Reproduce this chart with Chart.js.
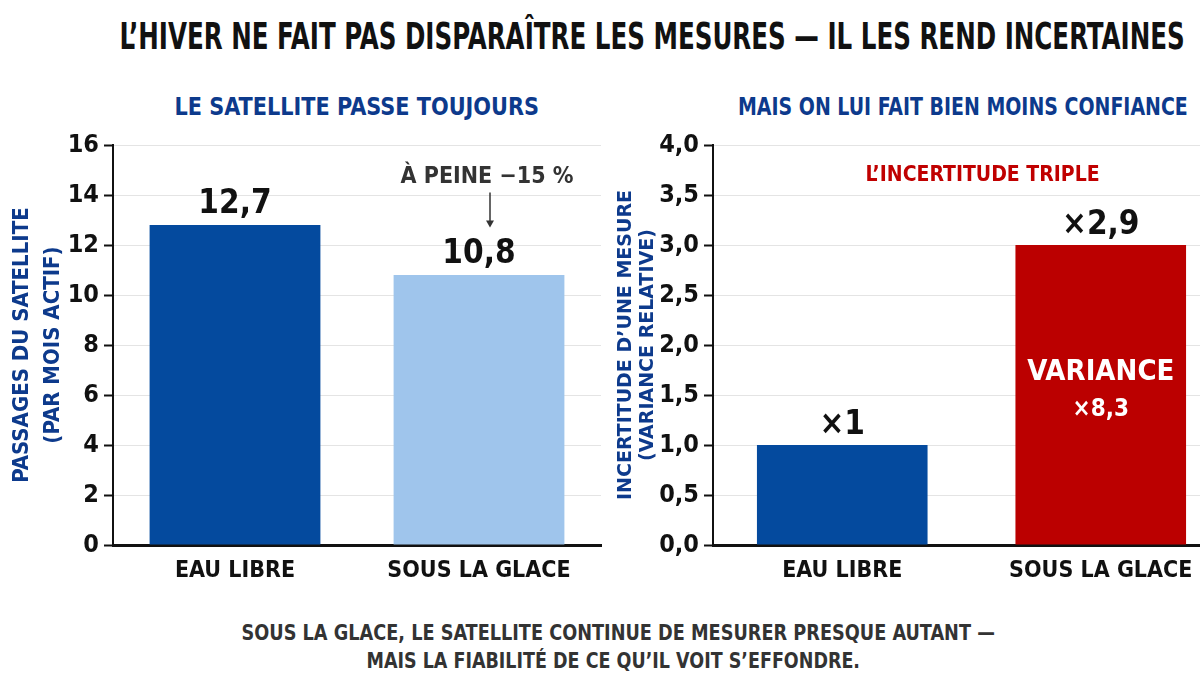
<!DOCTYPE html>
<html><head><meta charset="utf-8">
<script src="https://cdn.jsdelivr.net/npm/chart.js@4.4.1/dist/chart.umd.min.js"></script>
<style>
html,body{margin:0;padding:0;background:#ffffff;width:1200px;height:691px;overflow:hidden;position:relative;}
.t{position:absolute;white-space:nowrap;font-family:'Liberation Sans Narrow','DejaVu Sans Condensed','Arial Narrow',sans-serif;font-weight:bold;transform-origin:center center;line-height:1;}
.c{position:absolute;}
</style></head>
<body>
<div class="t" id="title" style="font-size:38px;color:#111;">L’HIVER NE FAIT PAS DISPARAÎTRE LES MESURES — IL LES REND INCERTAINES</div>
<div class="t" id="sub1" style="font-size:25px;color:#0d3a8c;">LE SATELLITE PASSE TOUJOURS</div>
<div class="t" id="sub2" style="font-size:25px;color:#0d3a8c;">MAIS ON LUI FAIT BIEN MOINS CONFIANCE</div>
<div class="t" id="foot1" style="font-size:21px;color:#333;">SOUS LA GLACE, LE SATELLITE CONTINUE DE MESURER PRESQUE AUTANT —</div>
<div class="t" id="foot2" style="font-size:21px;color:#333;">MAIS LA FIABILITÉ DE CE QU’IL VOIT S’EFFONDRE.</div>
<div class="c" style="left:0;top:125px;width:610px;height:475px;"><canvas id="left"></canvas></div>
<div class="c" style="left:600px;top:125px;width:630px;height:475px;"><canvas id="right"></canvas></div>
<script>
// ---- data ----
const categories = ['EAU LIBRE', 'SOUS LA GLACE'];
const passages = [12.8, 10.8];
const passagesLabels = ['12,7', '10,8'];
const passagesNote = 'À PEINE −15 %';
const incertitude = [1.0, 3.0];
const incertitudeLabels = ['×1', '×2,9'];
const incertitudeNote = 'L’INCERTITUDE TRIPLE';
const varianceLabel = ['VARIANCE', '×8,3'];
const leftAxisTitle = ['PASSAGES DU SATELLITE', '(PAR MOIS ACTIF)'];
const rightAxisTitle = ['INCERTITUDE D’UNE MESURE', '(VARIANCE RELATIVE)'];

const FONT = "'Liberation Sans Narrow','DejaVu Sans Condensed','Arial Narrow',sans-serif";

function place(id, cx, cy, w) {
  const el = document.getElementById(id);
  const nat = el.offsetWidth;
  const s = w ? w / nat : 1;
  el.style.left = (cx - nat / 2) + 'px';
  el.style.top = (cy - el.offsetHeight / 2) + 'px';
  el.style.transform = 'scaleX(' + s + ')';
}
place('title', 652, 36, 1065);
place('sub1', 357, 106, 365);
place('sub2', 963, 106, 450);
place('foot1', 618, 633, 753);
place('foot2', 613, 661, 494);

function fixY(w){ return function(scale){ scale.width = w; }; }
function fixX(h){ return function(scale){ scale.height = h; }; }

function commonScales(yOpts, titleOpts) {
  return {
    x: {
      afterFit: fixX(42),
      grid: { display: false },
      border: { display: true, color: '#111', width: 3 },
      ticks: { color: '#111', font: { family: FONT, weight: 'bold', size: 23 }, padding: 4 }
    },
    y: Object.assign({
      afterFit: fixY(113),
      beginAtZero: true,
      grid: { color: '#e4e4e4', lineWidth: 1, tickColor: '#111', tickLength: 9, tickWidth: 2 },
      border: { display: true, color: '#111', width: 2 },
      title: Object.assign({ display: true, color: '#0d3a8c' }, titleOpts),
    }, yOpts)
  };
}

const annot = {
  id: 'annot',
  afterDatasetsDraw(chart, args, opts) {
    const ctx = chart.ctx;
    const bars = chart.getDatasetMeta(0).data;
    ctx.save();
    ctx.textAlign = 'center';
    bars.forEach((b, i) => {
      ctx.fillStyle = '#111';
      ctx.font = 'bold 33px ' + FONT;
      ctx.textBaseline = 'bottom';
      ctx.fillText(opts.labels[i], b.x, b.y - opts.gap);
    });
    if (opts.draw) opts.draw(chart, ctx, bars);
    ctx.restore();
  }
};

new Chart(document.getElementById('left'), {
  type: 'bar',
  data: { labels: categories, datasets: [{ data: passages, backgroundColor: ['#044a9e', '#9fc5ec'], barPercentage: 0.70, categoryPercentage: 1.0 }] },
  options: {
    responsive: true, maintainAspectRatio: false, animation: false,
    layout: { padding: { top: 10, bottom: 13, right: 9, left: 0 } },
    plugins: { legend: { display: false }, tooltip: { enabled: false },
      annot: { labels: passagesLabels, gap: 4, draw(chart, ctx, bars) {
        const x = bars[1].x + 8;
        const ySc = chart.scales.y;
        ctx.fillStyle = '#333';
        ctx.font = 'bold 23px ' + FONT;
        ctx.textBaseline = 'middle';
        ctx.fillText(passagesNote, x, ySc.getPixelForValue(14.7));
        ctx.strokeStyle = '#333'; ctx.lineWidth = 1.5;
        const y0 = ySc.getPixelForValue(14.1), y1 = ySc.getPixelForValue(12.7);
        ctx.beginPath(); ctx.moveTo(x + 3, y0); ctx.lineTo(x + 3, y1 - 6); ctx.stroke();
        ctx.beginPath(); ctx.moveTo(x - 1, y1 - 7); ctx.lineTo(x + 7, y1 - 7); ctx.lineTo(x + 3, y1); ctx.closePath(); ctx.fillStyle = '#333'; ctx.fill();
      } } },
    scales: commonScales({ max: 16, ticks: { stepSize: 2, color: '#111', font: { family: FONT, weight: 'bold', size: 25 }, padding: 5 } },
      { text: leftAxisTitle, font: { family: FONT, weight: 'bold', size: 22, lineHeight: 1.4 }, padding: { top: 7, bottom: 0 } })
  },
  plugins: [annot]
});

new Chart(document.getElementById('right'), {
  type: 'bar',
  data: { labels: categories, datasets: [{ data: incertitude, backgroundColor: ['#044a9e', '#bb0000'], barPercentage: 0.66, categoryPercentage: 1.0 }] },
  options: {
    responsive: true, maintainAspectRatio: false, animation: false,
    layout: { padding: { top: 10, bottom: 13, right: 0, left: 0 } },
    plugins: { legend: { display: false }, tooltip: { enabled: false },
      annot: { labels: incertitudeLabels, gap: 3, draw(chart, ctx, bars) {
        const ySc = chart.scales.y;
        ctx.fillStyle = '#c00000';
        ctx.font = 'bold 21px ' + FONT;
        ctx.textBaseline = 'middle';
        ctx.fillText(incertitudeNote, (bars[0].x + bars[1].x) / 2 + 11, ySc.getPixelForValue(3.69));
        ctx.fillStyle = '#ffffff';
        ctx.font = 'bold 29px ' + FONT;
        ctx.fillText(varianceLabel[0], bars[1].x, ySc.getPixelForValue(1.73));
        ctx.font = 'bold 24px ' + FONT;
        ctx.fillText(varianceLabel[1], bars[1].x, ySc.getPixelForValue(1.35));
      } } },
    scales: commonScales({ max: 4, ticks: { stepSize: 0.5, color: '#111', font: { family: FONT, weight: 'bold', size: 25 }, padding: 5, callback: v => v.toFixed(1).replace('.', ',') } },
      { text: rightAxisTitle, font: { family: "'DejaVu Sans',sans-serif", weight: 'bold', size: 19, lineHeight: 1.15 }, padding: { top: 15, bottom: 0 } })
  },
  plugins: [annot]
});
</script>
</body></html>
